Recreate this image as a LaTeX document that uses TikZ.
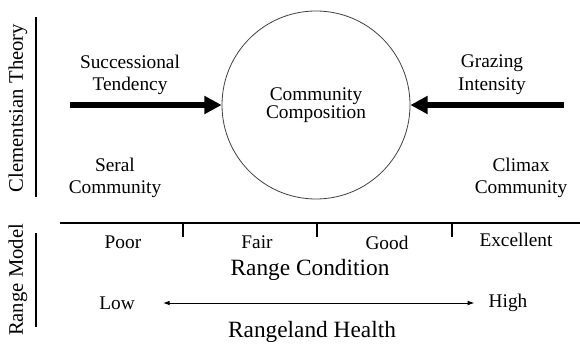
\documentclass[tikz,border=0pt]{standalone}
\usepackage{fontspec}
\setmainfont{Liberation Serif}
\usetikzlibrary{positioning,arrows.meta}

\begin{document}
\begin{tikzpicture}[
        x=0.75pt,
        y=-0.75pt,
        term/.style={
                text centered,
                align=center,
                inner sep=0pt,
                font=\fontsize{14.5}{17}\selectfont
            },
        big/.style={
                text centered,
                inner sep=0pt,
                font=\fontsize{17.5}{21}\selectfont
            },
        side/.style={
                rotate=90,
                inner sep=0pt,
                font=\fontsize{15.5}{18}\selectfont
            },
        force/.style={
                line width=4.5pt,
                -{Triangle[length=13pt,width=13pt]}
            },
        rule/.style={
                line width=1.3pt
            }
    ]
    \useasboundingbox (0,0) rectangle (580,345);

    % upper part: clementsian theory
    \node[circle,draw=black!75,line width=0.6pt,minimum size=141pt,inner sep=0pt,align=center,
        font=\fontsize{14.5}{14}\selectfont] (composition) at (316,105) {Community\\Composition};
    \node[term] (succession) at (130,75) {Successional\\Tendency};
    \node[term] (grazing) at (492,75) {Grazing\\Intensity};
    \node[term] (seral) at (115,178) {Seral\\Community};
    \node[term] (climax) at (521,178) {Climax\\Community};

    \coordinate (succTail) at (70,105);
    \coordinate (grazTail) at (564,105);
    \draw[force] (succTail) -- (composition.west);
    \draw[force] (grazTail) -- (composition.east);

    % lower part: range model
    \coordinate (scaleW) at (60,223);
    \coordinate (scaleE) at (580,223);
    \draw[rule] (scaleW) -- (scaleE);
    \foreach \x in {183,317,452}
        \draw[rule] (\x,223) -- (\x,237);

    \node[term] (poor) at (123,242) {Poor};
    \node[term] (fair) at (257,242) {Fair};
    \node[term] (good) at (387,243) {Good};
    \node[term] (excellent) at (516,240) {Excellent};
    \node[big] (condition) at (310,270) {Range Condition};

    \node[term] (low) at (117,303) {Low};
    \node[term] (high) at (508,303) {High};
    \draw[{Latex[length=5pt,width=3.5pt]}-{Latex[length=5pt,width=3.5pt]},line width=0.7pt,
        shorten <=21pt, shorten >=10.5pt] (low) -- (high);
    \node[big] (health) at (312,332) {Rangeland Health};

    % side titles
    \node[side] (theory) at (18,108) {Clementsian Theory};
    \node[side] (model) at (18,280) {Range Model};
    \coordinate (theoryTop) at (36,17);
    \coordinate (theoryEnd) at (36,197);
    \coordinate (modelTop) at (36,233);
    \coordinate (modelEnd) at (36,327);
    \draw[line width=1pt] (theoryTop) -- (theoryEnd);
    \draw[line width=1pt] (modelTop) -- (modelEnd);
\end{tikzpicture}
\end{document}
